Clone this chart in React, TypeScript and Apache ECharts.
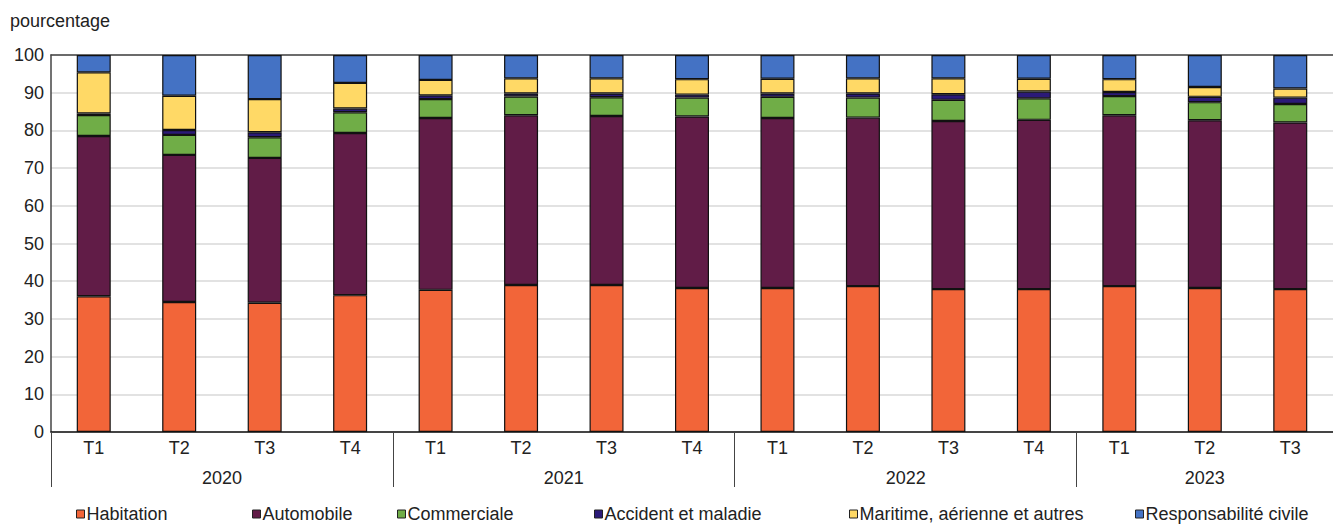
import React, { useEffect, useRef } from "react";
import * as echarts from "echarts";

const quarters = ["T1", "T2", "T3", "T4", "T1", "T2", "T3", "T4", "T1", "T2", "T3", "T4", "T1", "T2", "T3"];
const yearLabels = ["2020", "2021", "2022", "2023"];
const yearSpans = [4, 4, 4, 3];

const habitation = [36.0, 34.5, 34.3, 36.3, 37.7, 39.0, 39.0, 38.2, 38.2, 38.7, 37.9, 37.9, 38.7, 38.2, 37.9];
const automobile = [42.5, 39.0, 38.4, 43.0, 45.6, 45.0, 44.8, 45.5, 45.1, 44.7, 44.6, 44.9, 45.3, 44.5, 44.2];
const commerciale = [5.6, 5.3, 5.5, 5.5, 5.0, 5.0, 5.0, 5.0, 5.6, 5.3, 5.6, 5.7, 5.1, 4.8, 4.9];
const accident = [0.4, 1.3, 1.3, 1.0, 1.0, 0.8, 1.0, 0.8, 0.9, 1.1, 1.5, 1.8, 1.1, 1.4, 1.7];
const maritime = [10.9, 9.1, 8.8, 6.8, 4.1, 4.0, 4.0, 4.1, 3.9, 4.0, 4.2, 3.4, 3.4, 2.6, 2.4];
const responsabilite = [4.6, 10.8, 11.7, 7.4, 6.6, 6.2, 6.2, 6.4, 6.3, 6.2, 6.2, 6.3, 6.4, 8.5, 8.9];

const seriesNames = [
  "Habitation",
  "Automobile",
  "Commerciale",
  "Accident et maladie",
  "Maritime, aérienne et autres",
  "Responsabilité civile",
];
const seriesData = [habitation, automobile, commerciale, accident, maritime, responsabilite];
const seriesColors = ["#F26539", "#611C47", "#70AD47", "#2B1A78", "#FFD966", "#4472C4"];
const legendLefts = [74, 250, 395, 592, 847, 1133];

const FONT = "Liberation Sans";
const TEXT = "#222";

export default function App() {
  const ref = useRef<HTMLDivElement>(null);
  useEffect(() => {
    if (!ref.current) return;
    const chart = echarts.init(ref.current, undefined, { renderer: "svg" });

    const bounds: number[] = [0];
    const centers: number[] = [];
    let acc = 0;
    yearSpans.forEach((s) => {
      centers.push(acc + s / 2);
      acc += s;
      bounds.push(acc);
    });

    chart.setOption({
      animation: false,
      textStyle: { fontFamily: FONT },
      grid: { left: 51, right: 0, top: 55, bottom: 95, containLabel: false },
      title: {
        text: "pourcentage",
        left: 5,
        top: 7,
        textStyle: { fontFamily: FONT, fontSize: 18, fontWeight: "normal", color: TEXT },
      },
      legend: seriesNames.map((n, i) => ({
        data: [n],
        left: legendLefts[i],
        top: 502,
        padding: 2,
        itemWidth: 8,
        itemHeight: 8,
        icon: "rect",
        textStyle: { fontFamily: FONT, fontSize: 18, lineHeight: 20, color: TEXT, padding: [0, 0, 0, -3] },
        itemStyle: { borderColor: "#222", borderWidth: 1 },
      })),
      xAxis: [
        {
          type: "category",
          data: quarters,
          position: "bottom",
          axisLine: { show: true, lineStyle: { color: "#111", width: 1.5 } },
          axisTick: { show: false },
          axisLabel: { fontFamily: FONT, fontSize: 18, color: TEXT, margin: 7 },
          splitLine: { show: false },
        },
        {
          type: "value",
          min: 0,
          max: quarters.length,
          position: "bottom",
          axisLine: { show: false },
          axisTick: {
            show: true,
            customValues: bounds,
            length: 55,
            lineStyle: { color: "#444", width: 1 },
          },
          axisLabel: {
            show: true,
            customValues: centers,
            margin: 37,
            fontFamily: FONT,
            fontSize: 18,
            color: TEXT,
            formatter: (v: number) => {
              const idx = centers.findIndex((c) => Math.abs(c - v) < 1e-6);
              return idx >= 0 ? yearLabels[idx] : "";
            },
          },
          splitLine: { show: false },
        },
        {
          type: "category",
          data: quarters,
          position: "top",
          axisLine: { show: true, lineStyle: { color: "#444", width: 1.5 } },
          axisTick: { show: false },
          axisLabel: { show: false },
        },
      ],
      yAxis: {
        type: "value",
        min: 0,
        max: 100,
        interval: 10,
        axisLine: { show: true, lineStyle: { color: "#444", width: 1.5 } },
        axisTick: { show: false },
        axisLabel: { fontFamily: FONT, fontSize: 18, color: TEXT, margin: 7 },
        splitLine: { show: true, lineStyle: { color: "#d9d9d9", width: 1.5 } },
      },
      series: seriesNames.map((n, i) => ({
        name: n,
        type: "bar",
        stack: "total",
        xAxisIndex: 0,
        yAxisIndex: 0,
        barWidth: 34,
        data: seriesData[i],
        itemStyle: { color: seriesColors[i], borderColor: "#111", borderWidth: 1.2 },
      })),
    });
    return () => chart.dispose();
  }, []);

  return (
    <div
      ref={ref}
      style={{ position: "fixed", left: 0, top: 0, width: 1333, height: 527, background: "#fff" }}
    />
  );
}
